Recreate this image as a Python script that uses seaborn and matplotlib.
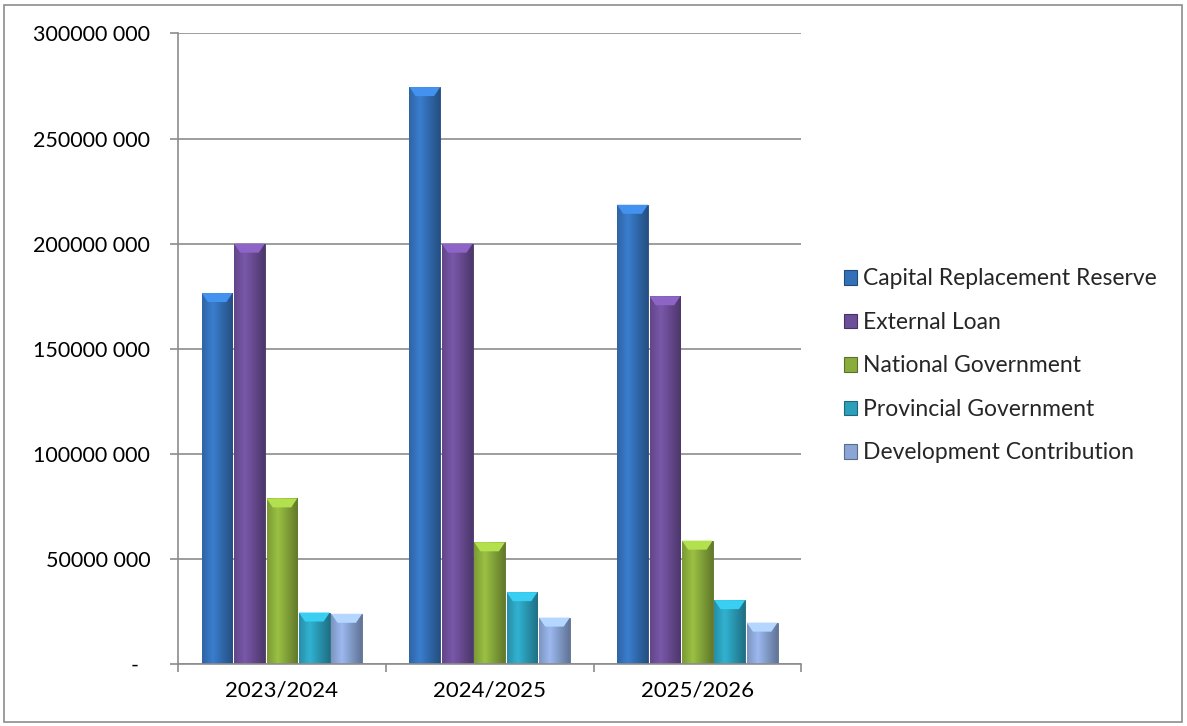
import matplotlib
matplotlib.use('Agg')
import matplotlib.pyplot as plt
import matplotlib.patches as mpatches
import matplotlib.ticker as mticker
import numpy as np
import pandas as pd
import seaborn as sns
from matplotlib.colors import to_rgb

# values
years = ['2023/2024', '2024/2025', '2025/2026']
sources = ['Capital Replacement Reserve', 'External Loan', 'National Government',
           'Provincial Government', 'Development Contribution']
capital_reserve = [176500000, 274500000, 218500000]
external_loan = [200000000, 200000000, 175000000]
national_gov = [78800000, 57900000, 58700000]
provincial_gov = [24500000, 34200000, 30400000]
development_contrib = [23900000, 22100000, 19700000]

colours = ['#3470b8', '#6d4e98', '#8aac3c', '#2c9fbb', '#8ba5d6']

rows = []
for src, vals in zip(sources, [capital_reserve, external_loan, national_gov,
                               provincial_gov, development_contrib]):
    for yr, v in zip(years, vals):
        rows.append({'year': yr, 'source': src, 'value': v})
df = pd.DataFrame(rows)

sns.set_style('white')
plt.rcParams['font.family'] = ['Lato', 'DejaVu Sans']

fig = plt.figure(figsize=(11.87, 7.26), dpi=100)
ax = fig.add_axes([0.150, 0.0854, 0.525, 0.8685])

sns.barplot(data=df, x='year', y='value', hue='source', hue_order=sources,
            order=years, palette=colours, saturation=1, width=0.78,
            gap=0.05, ax=ax, legend=True)

# shade each bar with a left-right gradient like the bevelled original
for i, src in enumerate(sources):
    base = np.array(to_rgb(colours[i]))
    dark = base * 0.72
    light = np.clip(base * 1.12, 0, 1)
    for bar in ax.containers[i]:
        bar.set_edgecolor(tuple(dark * 0.9))
        bar.set_linewidth(0.6)
        x0, w, h = bar.get_x(), bar.get_width(), bar.get_height()
        t = np.linspace(0, 1, 64)
        prof = np.clip(1 - np.abs(t - 0.35) * 1.6, 0, 1)[None, :, None]
        img = dark[None, None, :] + (light - dark)[None, None, :] * prof
        im = ax.imshow(img, extent=[x0, x0 + w, 0, h], aspect='auto',
                       zorder=bar.get_zorder() + 0.1, interpolation='bilinear')
        im.set_clip_path(bar)
        # lighter cap on top of the bar
        cap_h = 9 / 104.7 * 50000000
        cap = mpatches.Polygon([[x0, h], [x0 + w, h], [x0 + w * 0.8, h - cap_h],
                                [x0 + w * 0.2, h - cap_h]], closed=True,
                               facecolor=tuple(np.clip(base * 1.3, 0, 1)),
                               edgecolor='none', zorder=bar.get_zorder() + 0.2)
        ax.add_patch(cap)

ax.set_xlim(-0.5, 2.5)
ax.set_ylim(0, 300000000)
ax.set_xlabel('')
ax.set_ylabel('')


def money(v, pos):
    if v == 0:
        return '-  '
    s = f'{int(round(v)):d}'
    return s[:-3] + ' ' + s[-3:]


ax.yaxis.set_major_locator(mticker.MultipleLocator(50000000))
ax.yaxis.set_major_formatter(mticker.FuncFormatter(money))
ax.yaxis.grid(True, color='#8c8c8c', linewidth=1.2)
ax.set_axisbelow(True)

for side in ['top', 'right']:
    ax.spines[side].set_visible(False)
for side in ['left', 'bottom']:
    ax.spines[side].set_color('#8c8c8c')
    ax.spines[side].set_linewidth(1.2)

ax.tick_params(axis='y', left=True, length=6, width=1.2, color='#8c8c8c',
               pad=14, labelsize=15.5, labelcolor='black')
ax.set_xticks(range(len(years)))
ax.set_xticklabels(years)
ax.xaxis.set_minor_locator(mticker.FixedLocator(np.arange(-0.5, len(years), 1)))
ax.tick_params(axis='x', which='major', length=0, pad=12, labelsize=16,
               labelcolor='black')
ax.tick_params(axis='x', which='minor', bottom=True, length=6, width=1.2,
               color='#8c8c8c')

handles = [mpatches.Patch(facecolor=c, edgecolor=tuple(np.array(to_rgb(c)) * 0.65),
                          linewidth=0.8) for c in colours]
ax.legend(handles, sources, loc='center left', bbox_to_anchor=(0.703, 0.496),
          bbox_transform=fig.transFigure, frameon=False, fontsize=16.5,
          handlelength=0.6, handleheight=0.6, handletextpad=0.25,
          labelspacing=0.98, borderaxespad=0)

fig.patches.append(mpatches.Rectangle((0.003, 0.005), 0.993, 0.988,
                                      transform=fig.transFigure, fill=False,
                                      edgecolor='#8c8c8c', linewidth=1.2))

fig.savefig('out.png', dpi=100)
